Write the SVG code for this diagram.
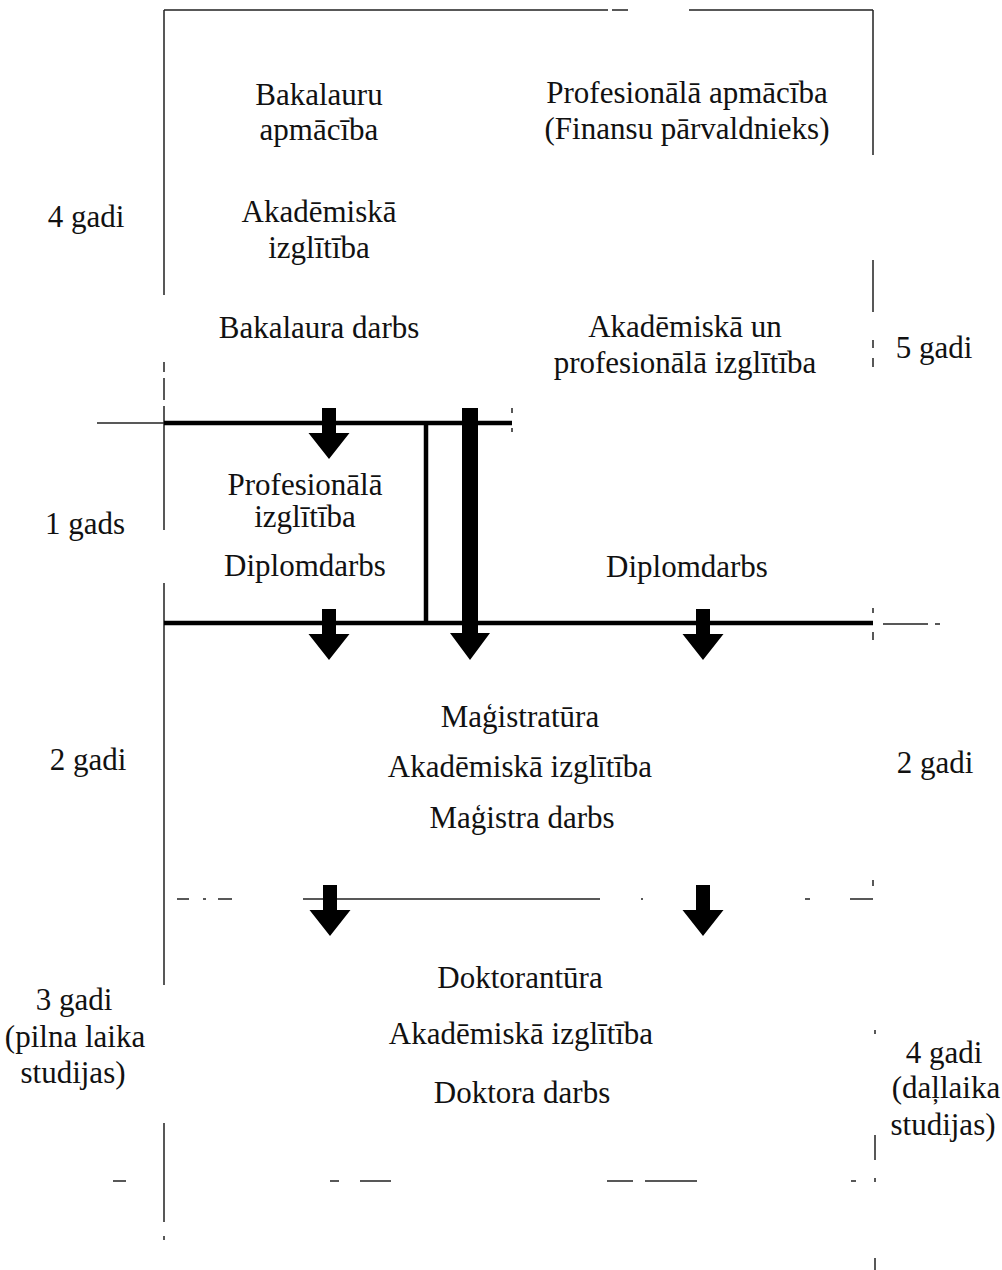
<svg xmlns="http://www.w3.org/2000/svg" xmlns:xlink="http://www.w3.org/1999/xlink" width="1002" height="1270" viewBox="0 0 1002 1270">
<style>
.t{font-family:"Liberation Serif","Times New Roman",serif;font-size:31px;text-anchor:middle;fill:#111}
.thin{stroke:#222;stroke-width:1.5;fill:none}
.thick{stroke:#000;stroke-width:4.5;fill:none}
.arr{fill:#000}
</style>
<defs>
<path id="arrow" d="M-7,0 H7 V25 H20.5 L0,51 L-20.5,25 H-7 Z"/>
</defs>
<rect width="1002" height="1270" fill="#fff"/>
<g id="frame">
<path class="thin" d="M164,10 H608 M612,10 H628 M689,10 H873"/>
<path class="thin" d="M164,10 V295 M164,362 V372 M164,378 V400 M164,406 V530 M164,583 V985 M164,1123 V1222 M164,1236 V1240"/>
<path class="thin" d="M873,10 V155 M873,260 V312 M873,340 V348 M873,358 V367 M873,608 V613 M873,632 V640 M873,880 V886 M875,1030 V1034 M875,1135 V1160 M875,1178 V1182 M875,1258 V1270"/>
<path class="thin" d="M883,624 H928 M935,624 H940"/>
<path class="thin" d="M177,899 H189 M203,899 H206 M218,899 H232 M303,899 H600 M641,899 H643 M805,899 H810 M850,899 H873"/>
<path class="thin" d="M113,1181 H126 M330,1181 H339 M360,1181 H391 M607,1181 H633 M645,1181 H697 M851,1181 H856"/>
<path class="thin" d="M97,423 H164"/>
<path class="thin" d="M512,408 V413 M512,428 V432"/>
</g>
<g id="connectors">
<path class="thick" d="M164,423 H512"/>
<path class="thick" d="M164,623 H873"/>
<path class="thick" d="M426,423 V623"/>
<path class="arr" d="M462,408 H478 V633 H490 L470,660 L450,633 H462 Z"/>
<use href="#arrow" xlink:href="#arrow" x="329" y="408" class="arr"/>
<use href="#arrow" xlink:href="#arrow" x="329" y="609" class="arr"/>
<use href="#arrow" xlink:href="#arrow" x="703" y="609" class="arr"/>
<use href="#arrow" xlink:href="#arrow" x="330" y="885" class="arr"/>
<use href="#arrow" xlink:href="#arrow" x="703" y="885" class="arr"/>
</g>
<g id="node-bakalauru">
<text class="t" x="319" y="105">Bakalauru</text>
<text class="t" x="319" y="140">apmācība</text>
<text class="t" x="319" y="222">Akadēmiskā</text>
<text class="t" x="319" y="258">izglītība</text>
<text class="t" x="319" y="338">Bakalaura darbs</text>
</g>
<g id="node-profesionala-apmaciba">
<text class="t" x="687" y="103">Profesionālā apmācība</text>
<text class="t" x="687" y="139">(Finansu pārvaldnieks)</text>
<text class="t" x="685" y="337">Akadēmiskā un</text>
<text class="t" x="685" y="373">profesionālā izglītība</text>
<text class="t" x="687" y="577">Diplomdarbs</text>
</g>
<g id="node-profesionala-izglitiba">
<text class="t" x="305" y="495">Profesionālā</text>
<text class="t" x="305" y="527">izglītība</text>
<text class="t" x="305" y="576">Diplomdarbs</text>
</g>
<g id="node-magistratura">
<text class="t" x="520" y="727">Maģistratūra</text>
<text class="t" x="520" y="777">Akadēmiskā izglītība</text>
<text class="t" x="522" y="828">Maģistra darbs</text>
</g>
<g id="node-doktorantura">
<text class="t" x="520" y="988">Doktorantūra</text>
<text class="t" x="521" y="1044">Akadēmiskā izglītība</text>
<text class="t" x="522" y="1103">Doktora darbs</text>
</g>
<g id="labels-left">
<text class="t" x="86" y="227">4 gadi</text>
<text class="t" x="85" y="534">1 gads</text>
<text class="t" x="88" y="770">2 gadi</text>
<text class="t" x="74" y="1010">3 gadi</text>
<text class="t" x="75" y="1047">(pilna laika</text>
<text class="t" x="73" y="1083">studijas)</text>
</g>
<g id="labels-right">
<text class="t" x="934" y="358">5 gadi</text>
<text class="t" x="935" y="773">2 gadi</text>
<text class="t" x="944" y="1063">4 gadi</text>
<text class="t" x="946" y="1098">(daļlaika</text>
<text class="t" x="943" y="1135">studijas)</text>
</g>
</svg>
